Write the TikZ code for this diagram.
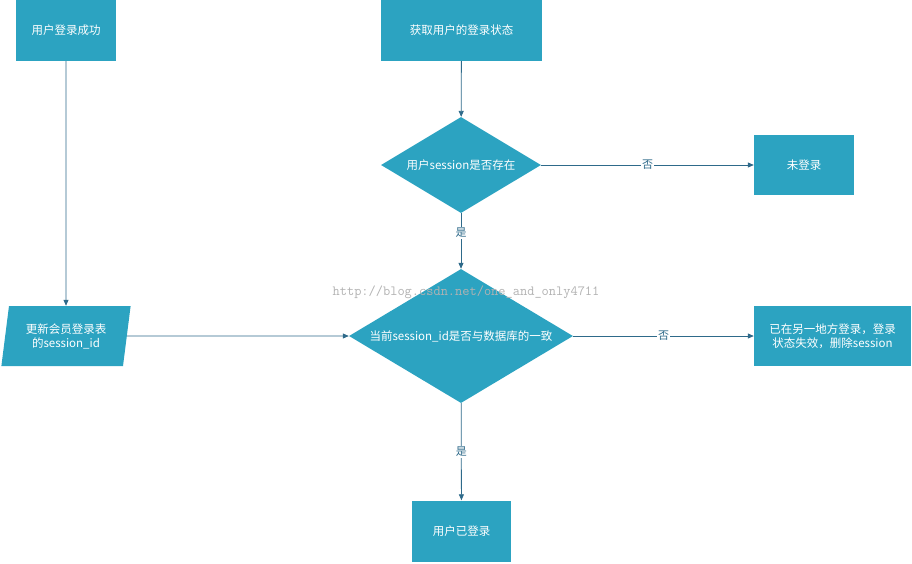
\documentclass[tikz,border=0pt]{standalone}
\usepackage{fontspec}
\setmainfont{Noto Sans CJK SC}
\usetikzlibrary{shapes.geometric,arrows.meta}
\definecolor{fillc}{HTML}{2CA3C1}
\definecolor{linec}{HTML}{2E6A8A}
\begin{document}
\begin{tikzpicture}[x=1pt,y=-1pt,
  box/.style={fill=fillc,text=white,inner sep=0pt,font=\fontsize{11.5}{14}\selectfont},
  lbl/.style={fill=white,text=linec,inner sep=1pt,font=\fontsize{11}{13}\selectfont},
  arr/.style={draw=linec,line width=0.8pt,-{Triangle[length=6pt,width=5pt]}}]
\useasboundingbox (0,0) rectangle (912,563);
\node[box,minimum width=100,minimum height=61] (a) at (66,30.5) {用户登录成功};
\node[box,minimum width=161,minimum height=61] (b) at (461.5,30.5) {获取用户的登录状态};
\node[box,diamond,aspect=1.67,minimum width=160,minimum height=96] (d1) at (461,165) {用户session是否存在};
\node[box,minimum width=100,minimum height=60] (c) at (804,165) {未登录};
\node[box,diamond,aspect=1.67,minimum width=224,minimum height=134] (d2) at (461,336) {当前session\_id是否与数据库的一致};
\node[box,trapezium,trapezium left angle=78,trapezium right angle=102,minimum width=130,minimum height=60,align=center,trapezium stretches=true] (p) at (66,336) {更新会员登录表\\的session\_id};
\node[box,minimum width=157,minimum height=60,align=center] (e) at (832.5,336) {已在另一地方登录，登录\\状态失效，删除session};
\node[box,minimum width=99,minimum height=61] (f) at (461.5,531) {用户已登录};
\node[text=gray!60,font=\ttfamily\fontsize{14}{16}\selectfont] (w) at (466,292) {http://blog.csdn.net/one\_and\_only4711};
\draw[arr] (a) -- (p);
\draw[arr] (b) -- (d1);
\draw[arr] (d1) -- node[lbl]{否} (c);
\draw[arr] (d1) -- node[lbl,pos=0.35]{是} (d2);
\draw[arr] (p) -- (d2);
\draw[arr] (d2) -- node[lbl,pos=0.5]{否} (e);
\draw[arr] (d2) -- node[lbl]{是} (f);
\end{tikzpicture}
\end{document}
